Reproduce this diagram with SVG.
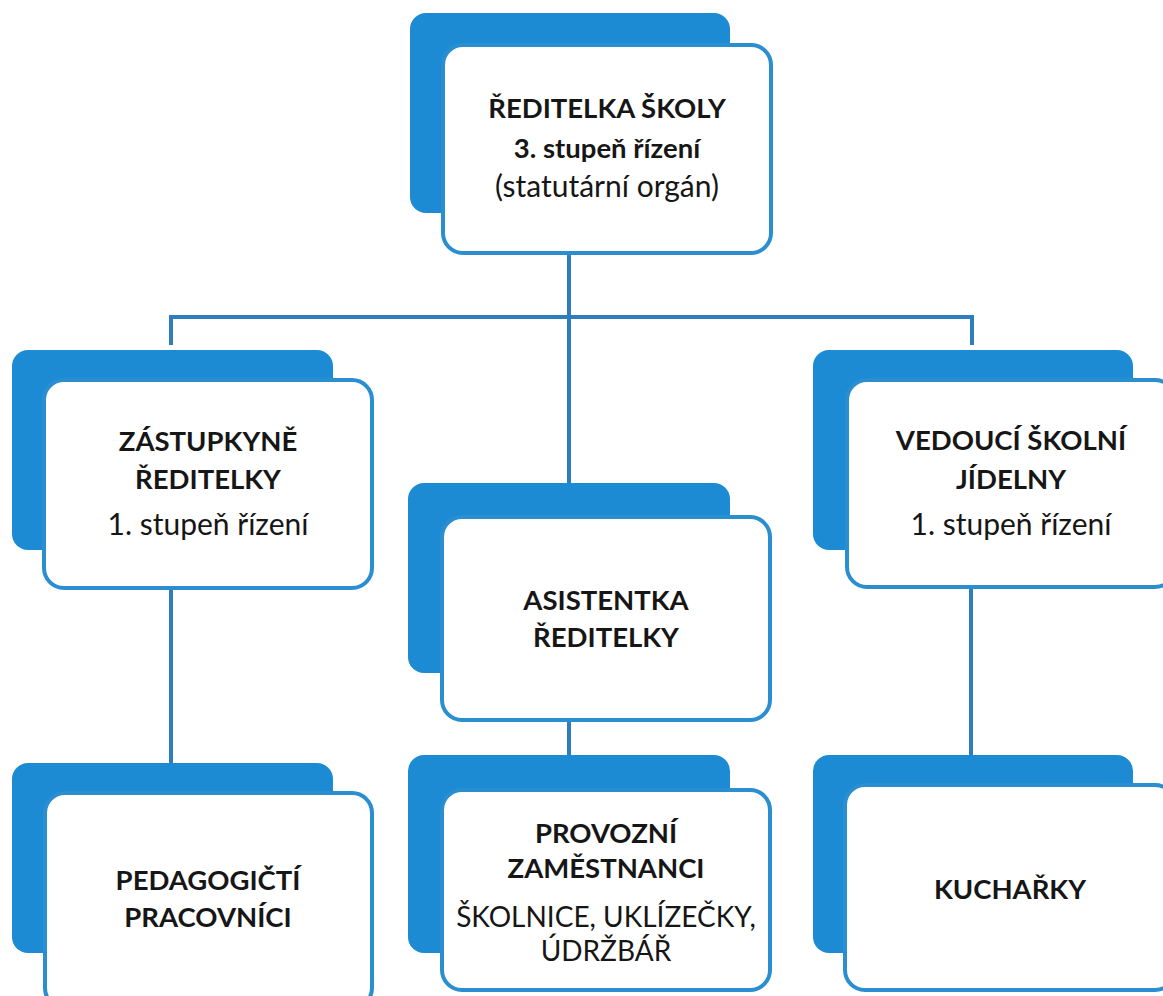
<svg xmlns="http://www.w3.org/2000/svg" width="1163" height="996" viewBox="0 0 1163 996">
<style>
.back{fill:#1c8bd3}
.front{fill:#ffffff;stroke:#2a8ed1;stroke-width:4}
.conn{stroke:#2f7dbd;stroke-width:4;fill:none;stroke-linecap:square}
text{font-family:Lato,"Open Sans","Liberation Sans",sans-serif;fill:#161616;text-anchor:middle;font-size:30px}
.b{font-weight:bold;font-size:27.5px}
.s{font-size:28px}
</style>
<rect x="0" y="0" width="1163" height="996" fill="#ffffff"/>
<g id="connectors">
<path class="conn" d="M569 253 V483"/>
<path class="conn" d="M171 343 V317 H972 V343"/>
<path class="conn" d="M171 588 V763"/>
<path class="conn" d="M569 720 V755"/>
<path class="conn" d="M971 587 V755"/>
</g>
<g id="reditelka">
<rect class="back" x="410" y="13" width="320" height="200" rx="16"/>
<rect class="front" x="443" y="45" width="328" height="208" rx="20"/>
<text class="b" x="607" y="118">ŘEDITELKA ŠKOLY</text>
<text class="b" x="607" y="158">3. stupeň řízení</text>
<text x="607" y="197">(statutární orgán)</text>
</g>
<g id="zastupkyne">
<rect class="back" x="12" y="350" width="321" height="200" rx="16"/>
<rect class="front" x="44" y="380" width="328" height="208" rx="20"/>
<text class="b" x="208" y="451">ZÁSTUPKYNĚ</text>
<text class="b" x="208" y="489">ŘEDITELKY</text>
<text x="208" y="535">1. stupeň řízení</text>
</g>
<g id="asistentka">
<rect class="back" x="408" y="483" width="322" height="190" rx="16"/>
<rect class="front" x="442" y="517" width="328" height="203" rx="20"/>
<text class="b" x="606" y="610">ASISTENTKA</text>
<text class="b" x="606" y="647">ŘEDITELKY</text>
</g>
<g id="vedouci">
<rect class="back" x="813" y="350" width="320" height="200" rx="16"/>
<rect class="front" x="847" y="380" width="328" height="207" rx="20"/>
<text class="b" x="1011" y="450">VEDOUCÍ ŠKOLNÍ</text>
<text class="b" x="1011" y="489">JÍDELNY</text>
<text x="1011" y="535">1. stupeň řízení</text>
</g>
<g id="pedagogicti">
<rect class="back" x="12" y="763" width="321" height="190" rx="16"/>
<rect class="front" x="45" y="793" width="327" height="215" rx="20"/>
<text class="b" x="208" y="890">PEDAGOGIČTÍ</text>
<text class="b" x="208" y="927">PRACOVNÍCI</text>
</g>
<g id="provozni">
<rect class="back" x="408" y="755" width="322" height="198" rx="16"/>
<rect class="front" x="442" y="790" width="328" height="200" rx="20"/>
<text class="b" x="606" y="843">PROVOZNÍ</text>
<text class="b" x="606" y="878">ZAMĚSTNANCI</text>
<text class="s" x="606" y="927">ŠKOLNICE, UKLÍZEČKY,</text>
<text class="s" x="606" y="961">ÚDRŽBÁŘ</text>
</g>
<g id="kucharky">
<rect class="back" x="813" y="755" width="320" height="198" rx="16"/>
<rect class="front" x="845" y="785" width="330" height="205" rx="20"/>
<text class="b" x="1010" y="899">KUCHAŘKY</text>
</g>
</svg>
